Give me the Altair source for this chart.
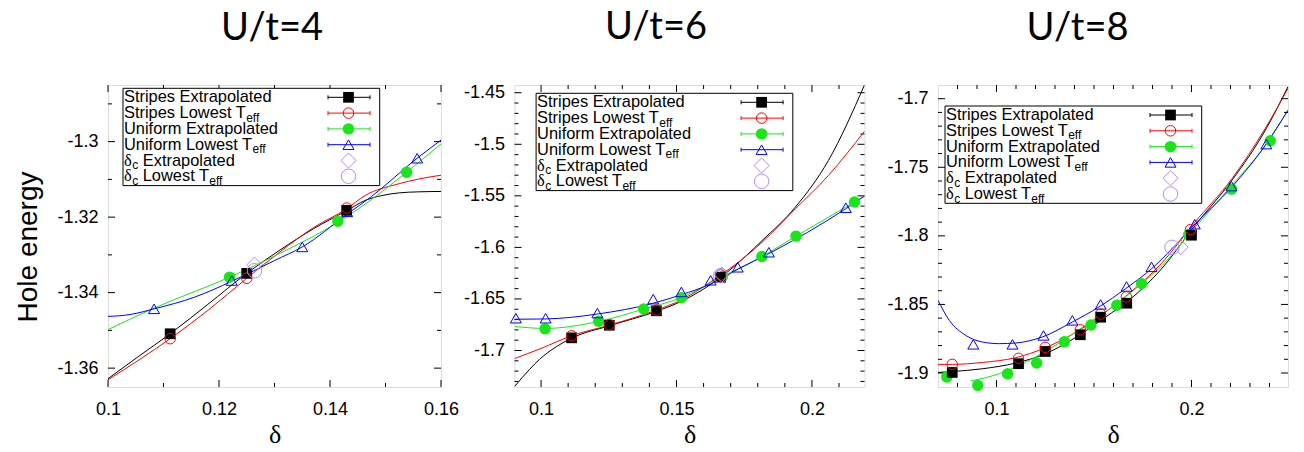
import altair as alt
import pandas as pd

# ================= U/t = 4 =================
u4_se_x = [0.1112, 0.1250, 0.1430]
u4_se_y = [-1.3509, -1.3349, -1.3182]
u4_sl_x = [0.1112, 0.1250, 0.1430]
u4_sl_y = [-1.3522, -1.3362, -1.3176]
u4_ue_x = [0.1219, 0.1414, 0.1538]
u4_ue_y = [-1.3359, -1.3211, -1.3081]
u4_ul_x = [0.1083, 0.1223, 0.1350, 0.1431, 0.1557]
u4_ul_y = [-1.3443, -1.3368, -1.3279, -1.3186, -1.3044]
u4_dce_x = [0.1264]
u4_dce_y = [-1.3326]
u4_dcl_x = [0.1264]
u4_dcl_y = [-1.3342]
u4_fit_se_x = [0.100, 0.1056, 0.1112, 0.118, 0.125, 0.131, 0.137, 0.143, 0.1463, 0.1493, 0.1523, 0.156, 0.160]
u4_fit_se_y = [-1.3628, -1.3568, -1.3509, -1.3431, -1.3349, -1.3287, -1.3231, -1.3183, -1.3156, -1.3143, -1.3136, -1.3133, -1.3132]
u4_fit_sl_x = [0.100, 0.1056, 0.1112, 0.118, 0.125, 0.131, 0.137, 0.143, 0.1463, 0.1523, 0.156, 0.160]
u4_fit_sl_y = [-1.3631, -1.3578, -1.3522, -1.3447, -1.3362, -1.3292, -1.3228, -1.3178, -1.3143, -1.3112, -1.3099, -1.3089]
u4_fit_ue_x = [0.100, 0.108, 0.1219, 0.1318, 0.1414, 0.1475, 0.1538, 0.160]
u4_fit_ue_y = [-1.3498, -1.3443, -1.3359, -1.3290, -1.3214, -1.3153, -1.3081, -1.3006]
u4_fit_ul_x = [0.100, 0.104, 0.1083, 0.1156, 0.1223, 0.130, 0.135, 0.1431, 0.1475, 0.1557, 0.160]
u4_fit_ul_y = [-1.3463, -1.3458, -1.3443, -1.3412, -1.3370, -1.3315, -1.3279, -1.3192, -1.3145, -1.3044, -1.2996]
u4_xticks = [0.1, 0.12, 0.14, 0.16]
u4_xminor = [0.11, 0.13, 0.15]
u4_yticks = [-1.36, -1.34, -1.32, -1.3]
u4_yminor = [-1.35, -1.33, -1.31, -1.29]

# ================= U/t = 6 =================
u6_se_x = [0.1113, 0.1252, 0.1426, 0.1663]
u6_se_y = [-1.6877, -1.6755, -1.6615, -1.6290]
u6_sl_x = [0.1113, 0.1252, 0.1426, 0.1663]
u6_sl_y = [-1.6857, -1.6750, -1.6608, -1.6267]
u6_ue_x = [0.1015, 0.1213, 0.1379, 0.1518, 0.1669, 0.1815, 0.1941, 0.2157]
u6_ue_y = [-1.6790, -1.6716, -1.6598, -1.6488, -1.6282, -1.6089, -1.5891, -1.5560]
u6_ul_x = [0.0907, 0.1017, 0.1208, 0.1414, 0.1518, 0.1626, 0.1726, 0.1841, 0.2125]
u6_ul_y = [-1.6687, -1.6687, -1.6637, -1.6502, -1.6432, -1.6319, -1.6193, -1.6047, -1.5615]
u6_dce_x = [0.1667]
u6_dce_y = [-1.6264]
u6_dcl_x = [0.1663]
u6_dcl_y = [-1.6274]
u6_fit_se_x = [0.0902, 0.0958, 0.0995, 0.1056, 0.1113, 0.1252, 0.1426, 0.1518, 0.1663, 0.1694, 0.1816, 0.1939, 0.2061, 0.2194]
u6_fit_se_y = [-1.7350, -1.7182, -1.7084, -1.6964, -1.6880, -1.6760, -1.6620, -1.6523, -1.6290, -1.6226, -1.5934, -1.5609, -1.5156, -1.4425]
u6_fit_sl_x = [0.0902, 0.1000, 0.1113, 0.1252, 0.1426, 0.1518, 0.1663, 0.1731, 0.1816, 0.1939, 0.2061, 0.2194]
u6_fit_sl_y = [-1.7078, -1.6980, -1.6857, -1.6754, -1.6608, -1.6510, -1.6267, -1.6138, -1.5950, -1.5626, -1.5302, -1.4873]
u6_fit_ue_x = [0.0902, 0.1015, 0.1213, 0.1379, 0.1518, 0.1669, 0.1815, 0.1941, 0.2157, 0.2194]
u6_fit_ue_y = [-1.6767, -1.6786, -1.6718, -1.6598, -1.6487, -1.6282, -1.6089, -1.5891, -1.5560, -1.5502]
u6_fit_ul_x = [0.0902, 0.1017, 0.1206, 0.1412, 0.1518, 0.1626, 0.1728, 0.1841, 0.2125, 0.2194]
u6_fit_ul_y = [-1.6697, -1.6694, -1.6647, -1.6543, -1.6459, -1.6355, -1.6210, -1.6060, -1.5625, -1.5502]
u6_xticks = [0.1, 0.15, 0.2]
u6_xminor = [0.11, 0.12, 0.13, 0.14, 0.16, 0.17, 0.18, 0.19, 0.21]
u6_yticks = [-1.7, -1.65, -1.6, -1.55, -1.5, -1.45]
u6_yminor = [-1.73, -1.72, -1.71, -1.69, -1.68, -1.67, -1.66, -1.64, -1.63, -1.62, -1.61,
             -1.59, -1.58, -1.57, -1.56, -1.54, -1.53, -1.52, -1.51, -1.49, -1.48, -1.47, -1.46]

# ================= U/t = 8 =================
u8_se_x = [0.0773, 0.1113, 0.1250, 0.1430, 0.1534, 0.1668, 0.2000]
u8_se_y = [-1.8996, -1.8932, -1.8843, -1.8721, -1.8593, -1.8491, -1.7995]
u8_sl_x = [0.0773, 0.1113, 0.1250, 0.1430, 0.1534, 0.1666, 0.1995]
u8_sl_y = [-1.8937, -1.8893, -1.8813, -1.8685, -1.8570, -1.8445, -1.7954]
u8_ue_x = [0.0745, 0.0904, 0.1057, 0.1206, 0.1348, 0.1484, 0.1617, 0.1744, 0.1986, 0.2205, 0.2404]
u8_ue_y = [-1.9029, -1.9090, -1.9005, -1.8927, -1.8771, -1.8650, -1.8506, -1.8348, -1.7990, -1.7659, -1.7307]
u8_ul_x = [0.0881, 0.1082, 0.1241, 0.1389, 0.1534, 0.1667, 0.1795, 0.2017, 0.2205, 0.2384]
u8_ul_y = [-1.8791, -1.8791, -1.8726, -1.8616, -1.8500, -1.8369, -1.8226, -1.7915, -1.7637, -1.7331]
u8_dce_x = [0.1944]
u8_dce_y = [-1.8082]
u8_dcl_x = [0.1900]
u8_dcl_y = [-1.8084]
u8_fit_se_x = [0.0700, 0.0775, 0.0928, 0.1099, 0.1252, 0.1423, 0.1560, 0.1679, 0.1850, 0.2012, 0.2208, 0.2379, 0.2495]
u8_fit_se_y = [-1.8996, -1.8989, -1.8969, -1.8927, -1.8859, -1.8725, -1.8591, -1.8470, -1.8235, -1.7934, -1.7594, -1.7229, -1.6912]
u8_fit_sl_x = [0.0700, 0.0775, 0.0928, 0.1099, 0.1252, 0.1423, 0.1560, 0.1679, 0.1850, 0.2012, 0.2208, 0.2379, 0.2495]
u8_fit_sl_y = [-1.8937, -1.8937, -1.8923, -1.8888, -1.8815, -1.8689, -1.8555, -1.8421, -1.8195, -1.7910, -1.7582, -1.7215, -1.6925]
u8_fit_ue_x = [0.0868, 0.1014, 0.1184, 0.1355, 0.1492, 0.1628, 0.1744, 0.1850, 0.2012, 0.2208, 0.2379, 0.2495]
u8_fit_ue_y = [-1.9058, -1.9005, -1.8896, -1.8750, -1.8616, -1.8482, -1.8348, -1.8215, -1.7947, -1.7629, -1.7339, -1.7083]
u8_fit_ul_x = [0.0700, 0.0758, 0.0843, 0.0928, 0.1014, 0.1099, 0.1236, 0.1389, 0.1526, 0.1662, 0.1795, 0.2012, 0.2208, 0.2379, 0.2495]
u8_fit_ul_y = [-1.8470, -1.8616, -1.8726, -1.8774, -1.8786, -1.8781, -1.8737, -1.8628, -1.8518, -1.8385, -1.8240, -1.7923, -1.7642, -1.7339, -1.7083]
u8_xticks = [0.1, 0.2]
u8_xminor = [0.08, 0.09, 0.11, 0.12, 0.13, 0.14, 0.15, 0.16, 0.17, 0.18, 0.19, 0.21, 0.22, 0.23, 0.24]
u8_yticks = [-1.9, -1.85, -1.8, -1.75, -1.7]
u8_yminor = [-1.89, -1.88, -1.87, -1.86, -1.84, -1.83, -1.82, -1.81, -1.79, -1.78, -1.77, -1.76,
             -1.74, -1.73, -1.72, -1.71]

legend_labels = [
    [("main", "Stripes Extrapolated")],
    [("main", "Stripes Lowest T"), ("sub", "eff")],
    [("main", "Uniform Extrapolated")],
    [("main", "Uniform Lowest T"), ("sub", "eff")],
    [("greek", "δ"), ("sub", "c"), ("main", " Extrapolated")],
    [("greek", "δ"), ("sub", "c"), ("main", " Lowest T"), ("sub", "eff")],
]

# ================= styles =================
FONT = "Liberation Sans"
COL = {"se": "#000000", "sl": "#ff0000", "ue": "#19e619", "ul": "#0000ff",
       "dce": "#b48cf0", "dcl": "#b48cf0"}
STY = {
    "se": dict(shape="square", filled=True, size=115),
    "sl": dict(shape="circle", filled=False, size=110),
    "ue": dict(shape="circle", filled=True, size=130),
    "ul": dict(shape="triangle-up", filled=False, size=120),
    "dce": dict(shape="diamond", filled=False, size=230),
    "dcl": dict(shape="circle", filled=False, size=210),
}
ORDER_KEYS = ["se", "sl", "ue", "ul", "dce", "dcl"]
AW = {'S': 667, 't': 278, 'r': 333, 'i': 222, 'p': 556, 'e': 556, 's': 500, ' ': 278,
      'E': 667, 'x': 500, 'a': 556, 'o': 556, 'l': 222, 'd': 556, 'L': 556, 'w': 722,
      'T': 611, 'U': 722, 'n': 556, 'f': 278, 'm': 833, 'c': 500}
FS_MAIN, FS_SUB = 16.4, 12
BOX_W, BOX_H, ROW0, ROWH, SUBDY = 256.7, 97.3, 9.0, 15.8, 4.5
MAJ, MIN = 7, 4
TITLE_OFFSET = 6.4


def seg_width(txt, kind):
    if kind == "greek":
        return 0.5 * FS_MAIN
    fs = FS_SUB if kind == "sub" else FS_MAIN
    return sum(AW.get(c, 556) for c in txt) / 1000 * fs


def build_panel(P):
    W, H = P["w"], P["h"]
    xs = alt.Scale(domain=P["xdom"], nice=False, zero=False)
    ys = alt.Scale(domain=P["ydom"], nice=False, zero=False)
    xaxis = alt.Axis(values=P["xt"], labelExpr="'' + datum.value", title="δ",
                     domain=False, ticks=False, tickSize=0, grid=False,
                     labelFont=FONT, labelFontSize=18, labelColor="black",
                     labelPadding=13, labelFlush=False, labelOverlap=False,
                     titleFont="Liberation Serif", titleFontSize=26, titleFontWeight="normal",
                     titleColor="black", titleY=55, titleBaseline="alphabetic")
    ykw = dict(values=P["yt"], labelExpr="'' + datum.value",
               domain=False, ticks=False, tickSize=0, grid=False,
               labelFont=FONT, labelFontSize=18, labelColor="black",
               labelPadding=10, labelFlush=False, labelOverlap=False)
    if P["ytitle"]:
        yaxis = alt.Axis(title=P["ytitle"], titleFont=FONT, titleFontSize=28,
                         titleFontWeight="normal", titleColor="black", titleAngle=270,
                         titleX=-72, titleY=H / 2 + 10.5, titleAlign="center",
                         titleBaseline="alphabetic", **ykw)
    else:
        yaxis = alt.Axis(title=None, **ykw)
    xenc = alt.X("x:Q", scale=xs, axis=xaxis)
    yenc = alt.Y("y:Q", scale=ys, axis=yaxis)

    layers = []
    # gnuplot-style inward ticks on all four sides
    for vals, L in ((P["xt"], MAJ), (P["xm"], MIN)):
        d = pd.DataFrame({"x": vals})
        layers.append(alt.Chart(d).mark_rule(color="black", strokeWidth=1).encode(
            x=xenc, y=alt.value(H), y2=alt.value(H - L)))
        layers.append(alt.Chart(d).mark_rule(color="black", strokeWidth=1).encode(
            x=xenc, y=alt.value(0), y2=alt.value(L)))
    for vals, L in ((P["yt"], MAJ), (P["ym"], MIN)):
        d = pd.DataFrame({"y": vals})
        layers.append(alt.Chart(d).mark_rule(color="black", strokeWidth=1).encode(
            y=yenc, x=alt.value(0), x2=alt.value(L)))
        layers.append(alt.Chart(d).mark_rule(color="black", strokeWidth=1).encode(
            y=yenc, x=alt.value(W), x2=alt.value(W - L)))

    # fitted curves
    for k in ["se", "sl", "ue", "ul"]:
        fx, fy = P["fits"][k]
        d = pd.DataFrame({"x": fx, "y": fy})
        layers.append(alt.Chart(d).mark_line(color=COL[k], strokeWidth=1,
                                             interpolate="monotone", clip=True).encode(
            x=xenc, y=yenc))
    # data points
    for k in ["ue", "ul", "se", "sl", "dce", "dcl"]:
        px, py = P["pts"][k]
        d = pd.DataFrame({"x": px, "y": py})
        layers.append(alt.Chart(d).mark_point(color=COL[k], strokeWidth=1, opacity=1,
                                              **STY[k]).encode(x=xenc, y=yenc))

    # legend box
    bx, by = P["legend"]
    one = pd.DataFrame({"k": [0]})
    layers.append(alt.Chart(one).mark_rect(fill="white", stroke="black", strokeWidth=1).encode(
        x=alt.value(bx), x2=alt.value(bx + BOX_W), y=alt.value(by), y2=alt.value(by + BOX_H)))
    segs = []
    for i, row in enumerate(legend_labels):
        xo = 1.0
        for kind, txt in row:
            if txt.startswith(" "):
                xo += AW[" "] / 1000 * FS_MAIN
                txt = txt[1:]
            segs.append(dict(kind=kind, text=txt, px=bx + xo,
                             py=by + ROW0 + ROWH * i + (SUBDY if kind == "sub" else 0)))
            xo += seg_width(txt, kind)
    sd = pd.DataFrame(segs)
    for kind, font, fs in (("main", FONT, FS_MAIN), ("sub", FONT, FS_SUB),
                           ("greek", "Liberation Serif", FS_MAIN)):
        layers.append(alt.Chart(sd[sd.kind == kind]).mark_text(
            align="left", baseline="middle", font=font, fontSize=fs, color="black").encode(
            x=alt.X("px:Q", scale=None), y=alt.Y("py:Q", scale=None), text="text:N"))
    for i, k in enumerate(ORDER_KEYS):
        yy = by + ROW0 + ROWH * i
        if i < 4:
            layers.append(alt.Chart(one).mark_rule(color=COL[k], strokeWidth=1).encode(
                x=alt.value(bx + 205), x2=alt.value(bx + 247), y=alt.value(yy)))
            for cx in (bx + 205, bx + 247):
                layers.append(alt.Chart(one).mark_rule(color=COL[k], strokeWidth=1).encode(
                    x=alt.value(cx), y=alt.value(yy - 2), y2=alt.value(yy + 2)))
        layers.append(alt.Chart(one).mark_point(color=COL[k], strokeWidth=1, opacity=1,
                                                **STY[k]).encode(
            x=alt.value(bx + 225.5), y=alt.value(yy)))

    title = alt.TitleParams(text=P["title"], font="Lato", fontSize=38, fontWeight="normal",
                            color="black", anchor="middle", frame="group", dx=P["tdx"],
                            offset=TITLE_OFFSET, baseline="alphabetic")
    return alt.layer(*layers).properties(width=W, height=H, title=title)


def pack(prefix):
    g = globals()
    pts = {k: (g[f"{prefix}_{k}_x"], g[f"{prefix}_{k}_y"]) for k in ORDER_KEYS}
    fits = {k: (g[f"{prefix}_fit_{k}_x"], g[f"{prefix}_fit_{k}_y"]) for k in ["se", "sl", "ue", "ul"]}
    return pts, fits


panels = []
specs = [
    ("u4", "U/t=4", [0.1, 0.16], [-1.365, -1.285], 333, -2.5, (15, 3.3), "Hole energy"),
    ("u6", "U/t=6", [0.0902, 0.2194], [-1.7354, -1.4425], 350, -33.5, (21.6, 8.3), ""),
    ("u8", "U/t=8", [0.07, 0.2495], [-1.9102, -1.69], 350, -35.5, (7, 21), ""),
]
for prefix, title, xd, yd, w, tdx, leg, yt in specs:
    pts, fits = pack(prefix)
    g = globals()
    P = dict(title=title, xdom=xd, ydom=yd, w=w, h=302, tdx=tdx, legend=leg, ytitle=yt,
             xt=g[f"{prefix}_xticks"], xm=g[f"{prefix}_xminor"],
             yt=g[f"{prefix}_yticks"], ym=g[f"{prefix}_yminor"], pts=pts, fits=fits)
    panels.append(build_panel(P))

chart = alt.hconcat(*panels, spacing=73.5, bounds="flush",
                    padding={"left": 5, "top": 0, "right": 5, "bottom": 5}).configure_view(
    stroke="black", strokeWidth=1).configure(background="white")

chart.save("out.html", embed_options={"renderer": "svg", "actions": False})
